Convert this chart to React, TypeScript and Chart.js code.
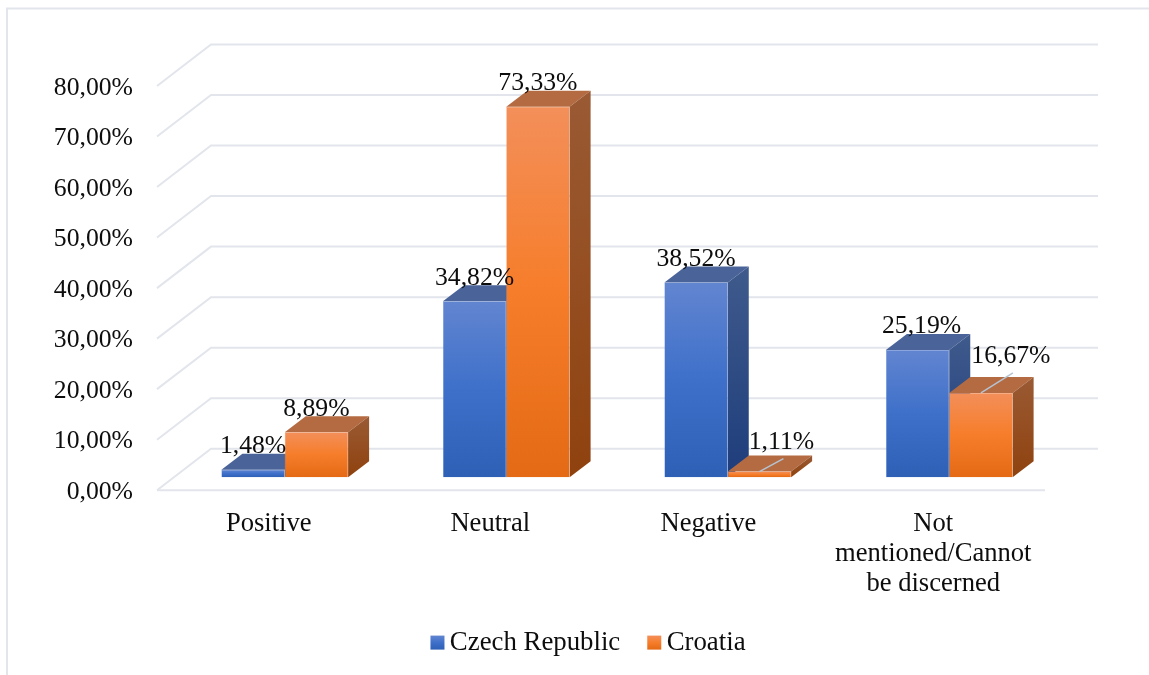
import React, { useEffect, useRef } from "react";
import { Chart, registerables } from "chart.js";

Chart.register(...registerables);

const categories: (string | string[])[] = ["Positive", "Neutral", "Negative", ["Not", "mentioned/Cannot", "be discerned"]];
const czechRepublic = [1.48, 34.82, 38.52, 25.19];
const croatia = [8.89, 73.33, 1.11, 16.67];
const seriesNames = ["Czech Republic", "Croatia"];
const axisMax = 80;
const axisStep = 10;

const FONT = "'Liberation Serif', 'Times New Roman', serif";
const FONT_SIZE = 25.7;
const CAT_FONT_SIZE = 26.6;
const LEGEND_FONT_SIZE = 26.8;
const TEXT = "#0d0d0d";
const GRID = "#e2e5eb";

const palette = [
  { front: ["#6285d0", "#3e70ca", "#2e60b6"], top: "#4a6499", side: ["#3f5a8c", "#1e3d7b"], edge: "#6a8dd6" },
  { front: ["#f38f5a", "#f67d2a", "#e46a15"], top: "#b56b41", side: ["#9a5a34", "#8f420e"], edge: "#f49a66" },
];

const DEPTH_X = 21;
const DEPTH_Y = 16;
// label placement relative to the top of each bar's front face
const labelNudge = [
  [{ dx: 0, dy: 0 }, { dx: 0, dy: 0 }, { dx: 0, dy: 0 }, { dx: 4, dy: 0 }],
  [{ dx: 0, dy: 0 }, { dx: 0, dy: 0 }, { dx: 22, dy: -6 }, { dx: 30, dy: -13 }],
];
const leaderEnds: (null | { dx: number; dy: number })[][] = [
  [null, null, null, null],
  [null, null, { dx: 24, dy: -13 }, { dx: 32, dy: -20 }],
];

function drawFaces(chart: any, index: number) {
  const { ctx } = chart;
  const colors = palette[index];
  const base = chart.scales.y.getPixelForValue(0);
  ctx.save();
  chart.getDatasetMeta(index).data.forEach((bar: any) => {
    const left = bar.x - bar.width / 2;
    const right = bar.x + bar.width / 2;
    const top = bar.y;
    ctx.fillStyle = colors.top;
    ctx.beginPath();
    ctx.moveTo(left, top);
    ctx.lineTo(left + DEPTH_X, top - DEPTH_Y);
    ctx.lineTo(right + DEPTH_X, top - DEPTH_Y);
    ctx.lineTo(right, top);
    ctx.closePath();
    ctx.fill();
    const g = ctx.createLinearGradient(0, top - DEPTH_Y, 0, base);
    g.addColorStop(0, colors.side[0]);
    g.addColorStop(1, colors.side[1]);
    ctx.fillStyle = g;
    ctx.beginPath();
    ctx.moveTo(right, top);
    ctx.lineTo(right + DEPTH_X, top - DEPTH_Y);
    ctx.lineTo(right + DEPTH_X, base - DEPTH_Y);
    ctx.lineTo(right, base);
    ctx.closePath();
    ctx.fill();
  });
  ctx.restore();
}

const faces3d = {
  id: "faces3d",
  afterLayout(chart: any) {
    const legend = chart.legend;
    legend.left += 38;
    legend.right += 38;
    legend.legendHitBoxes.forEach((b: any) => { b.left += 38; });
  },
  beforeDatasetsDraw(chart: any) {
    const { ctx, chartArea: a, scales } = chart;
    const y = scales.y;
    ctx.save();
    ctx.strokeStyle = GRID;
    ctx.lineWidth = 2;
    ctx.beginPath();
    ctx.moveTo(7, 675);
    ctx.lineTo(7, 8.5);
    ctx.lineTo(1149, 8.5);
    ctx.stroke();
    y.ticks.forEach((t: any) => {
      const p = y.getPixelForValue(t.value);
      ctx.beginPath();
      ctx.moveTo(a.left - 17, p + 13);
      ctx.lineTo(a.left + 37, p - 28.5);
      ctx.lineTo(a.right + 38, p - 28.5);
      ctx.stroke();
    });
    const z = y.getPixelForValue(0);
    ctx.beginPath();
    ctx.moveTo(a.left - 17, z + 13);
    ctx.lineTo(a.right - 15, z + 13);
    ctx.stroke();
    ctx.restore();
    // series are painted front-most last: Czech Republic, then Croatia
    [0, 1].forEach((i) => {
      drawFaces(chart, i);
      chart.getDatasetMeta(i).controller.draw();
    });
  },
  beforeDatasetDraw() {
    return false;
  },
  afterDatasetsDraw(chart: any) {
    const { ctx } = chart;
    ctx.save();
    ctx.font = `${FONT_SIZE}px ${FONT}`;
    ctx.textAlign = "center";
    ctx.textBaseline = "middle";
    chart.data.datasets.forEach((ds: any, i: number) => {
      chart.getDatasetMeta(i).data.forEach((bar: any, j: number) => {
        const n = labelNudge[i][j];
        const end = leaderEnds[i][j];
        if (end) {
          ctx.strokeStyle = "#b5c3d2";
          ctx.lineWidth = 1.5;
          ctx.beginPath();
          ctx.moveTo(bar.x, bar.y);
          ctx.lineTo(bar.x + end.dx, bar.y + end.dy);
          ctx.stroke();
        }
        ctx.fillStyle = TEXT;
        ctx.fillText(ds.data[j].toFixed(2).replace(".", ",") + "%", bar.x + n.dx, bar.y - 23.5 + n.dy);
      });
    });
    chart.legend.legendHitBoxes.forEach((box: any, i: number) => {
      const midY = box.top + box.height / 2;
      const g = ctx.createLinearGradient(0, midY - 7, 0, midY + 7);
      palette[i].front.forEach((c: string, k: number) => g.addColorStop(k / 2, c));
      ctx.fillStyle = g;
      ctx.fillRect(box.left, midY - 7, 14, 14);
    });
    ctx.restore();
  },
};

function barGradient(i: number) {
  return (c: any) => {
    const { chart } = c;
    const y = chart.scales?.y;
    if (!y || c.raw == null) return palette[i].front[1];
    const g = chart.ctx.createLinearGradient(0, y.getPixelForValue(c.raw), 0, y.getPixelForValue(0));
    palette[i].front.forEach((col: string, k: number) => g.addColorStop(k / 2, col));
    return g;
  };
}

export default function App() {
  const ref = useRef<HTMLCanvasElement>(null);
  useEffect(() => {
    document.body.style.margin = "0";
    document.body.style.overflow = "hidden";
    const chart = new Chart(ref.current!, {
      type: "bar",
      data: {
        labels: categories as any,
        datasets: [
          { label: seriesNames[0], data: czechRepublic, backgroundColor: barGradient(0), borderColor: palette[0].edge, borderWidth: 0.5 },
          { label: seriesNames[1], data: croatia, backgroundColor: barGradient(1), borderColor: palette[1].edge, borderWidth: 0.5 },
        ],
      },
      options: {
        responsive: false,
        animation: false,
        layout: { padding: { left: 40, right: 89, top: 73, bottom: 9 } },
        datasets: { bar: { categoryPercentage: 0.572, barPercentage: 1 } },
        plugins: {
          tooltip: { enabled: false },
          title: { display: false },
          legend: {
            display: true,
            position: "bottom",
            onClick: () => {},
            labels: {
              boxWidth: 6,
              boxHeight: 14,
              padding: 27,
              color: TEXT,
              font: { family: FONT, size: LEGEND_FONT_SIZE },
              generateLabels: () =>
                seriesNames.map((text, i) => ({ text, fillStyle: "transparent", strokeStyle: "transparent", lineWidth: 0, datasetIndex: i, fontColor: TEXT })),
            },
          },
        },
        scales: {
          x: {
            grid: { display: false, drawTicks: false },
            border: { display: false },
            afterFit: (s: any) => { s.height = 125; },
            ticks: {
              color: TEXT,
              font: { family: FONT, size: CAT_FONT_SIZE, lineHeight: 1.13 },
              padding: 32,
              labelOffset: -16,
              maxRotation: 0,
              autoSkip: false,
              callback: (_v: any, i: number) => (i === 2 ? `${categories[i]} ` : categories[i]),
            },
          },
          y: {
            min: 0,
            max: axisMax,
            grid: { display: false, drawTicks: false },
            border: { display: false },
            afterFit: (s: any) => { s.width = 134; },
            ticks: {
              stepSize: axisStep,
              color: TEXT,
              font: { family: FONT, size: FONT_SIZE },
              padding: 41,
              labelOffset: 15,
              callback: (v: any) => Number(v).toFixed(2).replace(".", ",") + "%",
            },
          },
        },
      } as any,
      plugins: [faces3d],
    });
    return () => chart.destroy();
  }, []);
  return <canvas ref={ref} width={1149} height={675} style={{ display: "block" }} />;
}
